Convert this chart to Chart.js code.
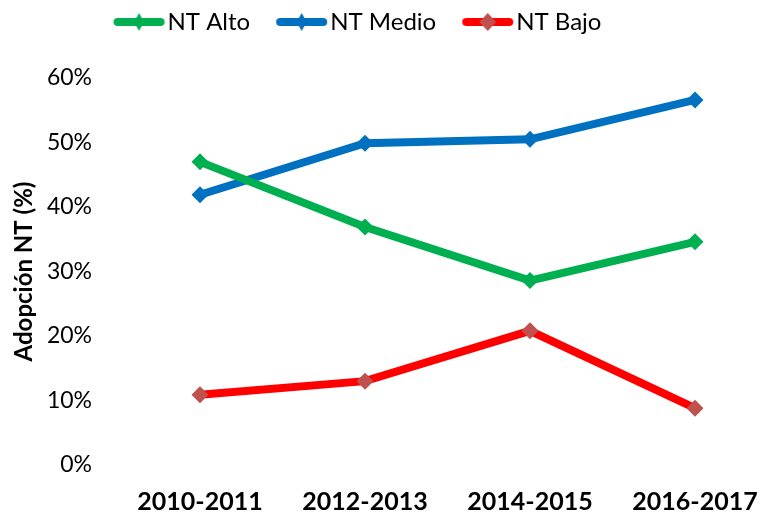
<!DOCTYPE html>
<html>
<head>
<meta charset="utf-8">
<script src="https://cdn.jsdelivr.net/npm/chart.js@4/dist/chart.umd.min.js"></script>
<style>
  html, body { margin: 0; padding: 0; background: #fff; overflow: hidden; }
  canvas { display: block; }
</style>
</head>
<body>
<canvas id="lineChart" width="771" height="515"></canvas>
<script>
// data (percent)
const periods = ['2010-2011', '2012-2013', '2014-2015', '2016-2017'];
const ntAlto = [47.0, 36.9, 28.6, 34.6];
const ntMedio = [41.9, 49.9, 50.5, 56.6];
const ntBajo = [10.9, 13.0, 20.8, 8.8];
const yTicks = [0, 10, 20, 30, 40, 50, 60];

const FONT = 'Lato, "Open Sans", sans-serif';

// legend box width and blank lead-in before the symbol (acts as gap between items)
const SYM_W = 62;
const LEAD = 20;

// legend symbol: thick line with a diamond in the middle
function legendSymbol(lineColor, markColor, mw, mh) {
  const c = document.createElement('canvas');
  c.width = 130; c.height = 24;
  const g = c.getContext('2d');
  const x0 = 65 - SYM_W / 2 + LEAD;
  g.strokeStyle = lineColor;
  g.lineWidth = 8;
  g.lineCap = 'round';
  g.beginPath();
  g.moveTo(x0 + 4, 12);
  g.lineTo(x0 + 47, 12);
  g.stroke();
  g.fillStyle = markColor;
  g.beginPath();
  g.moveTo(x0 + 25.5 - mw / 2, 12);
  g.lineTo(x0 + 25.5, 12 - mh / 2);
  g.lineTo(x0 + 25.5 + mw / 2, 12);
  g.lineTo(x0 + 25.5, 12 + mh / 2);
  g.closePath();
  g.fill();
  return c;
}

const symbols = [
  legendSymbol('#00B050', '#00B050', 10, 18),
  legendSymbol('#0070C0', '#0070C0', 10, 18),
  legendSymbol('#FF0000', '#C0504D', 17, 18),
];

function series(label, data, color, markColor) {
  return {
    label: label,
    data: data,
    borderColor: color,
    backgroundColor: markColor,
    borderWidth: 8,
    tension: 0,
    pointStyle: 'rectRot',
    pointRadius: 8.5,
    pointHoverRadius: 8.5,
    pointBorderWidth: 0,
    pointBackgroundColor: markColor,
  };
}

// leave room between the legend and the plot
const legendGap = {
  id: 'legendGap',
  beforeLayout(chart) {
    const lg = chart.legend;
    if (lg && !lg._gapAdded) {
      const fit = lg.fit;
      lg.fit = function () { fit.call(this); this.height += 34; };
      lg._gapAdded = true;
    }
  },
};

const ctx = document.getElementById('lineChart');
new Chart(ctx, {
  type: 'line',
  data: {
    labels: periods,
    datasets: [
      series('NT Alto', ntAlto, '#00B050', '#00B050'),
      series('NT Medio', ntMedio, '#0070C0', '#0070C0'),
      series('NT Bajo', ntBajo, '#FF0000', '#C0504D'),
    ],
  },
  plugins: [legendGap],
  options: {
    responsive: false,
    animation: false,
    layout: { padding: { top: 4, right: 76, bottom: 0, left: 0 } },
    plugins: {
      tooltip: { enabled: false },
      legend: {
        position: 'top',
        labels: {
          usePointStyle: true,
          pointStyleWidth: SYM_W,
          padding: 6,
          color: '#000',
          font: { family: FONT, size: 24 },
          generateLabels: chart => chart.data.datasets.map((ds, i) => ({
            text: ds.label,
            pointStyle: symbols[i],
            fontColor: '#000',
            hidden: false,
            datasetIndex: i,
            lineWidth: 0,
          })),
        },
      },
    },
    scales: {
      x: {
        offset: false,
        grid: { display: false, drawTicks: false },
        border: { display: false },
        ticks: {
          color: '#000',
          padding: 22,
          maxRotation: 0,
          font: { family: FONT, size: 25, weight: 'bold' },
        },
        afterFit: s => { s.height = 50; s.paddingLeft = 0; s.paddingRight = 0; },
      },
      y: {
        min: 0,
        max: 60,
        grid: { display: false, drawTicks: false },
        border: { display: false },
        afterBuildTicks: s => { s.ticks = yTicks.map(v => ({ value: v })); },
        ticks: {
          color: '#000',
          padding: 108,
          font: { family: FONT, size: 23 },
          callback: v => v + '%',
        },
        title: {
          display: true,
          text: 'Adopción NT (%)',
          color: '#000',
          padding: { top: 10, bottom: 4 },
          font: { family: FONT, size: 24, weight: 'bold' },
        },
        afterFit: s => { s.width = 200; s.paddingTop = 0; s.paddingBottom = 0; },
      },
    },
  },
});
</script>
</body>
</html>
